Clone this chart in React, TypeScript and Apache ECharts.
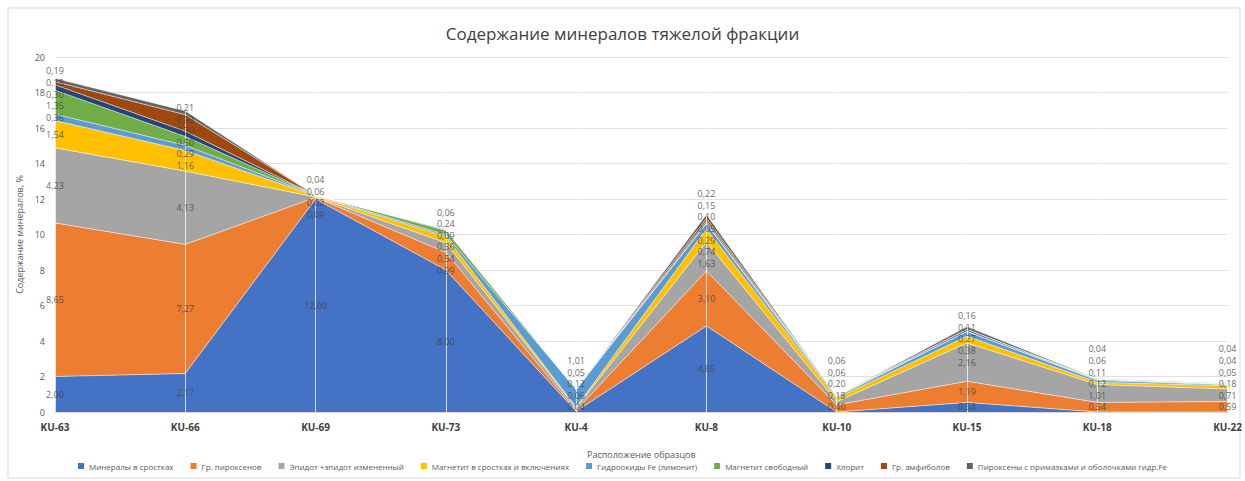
import React, { useEffect, useRef } from "react";
import * as echarts from "echarts";

const categories = ["KU-63", "KU-66", "KU-69", "KU-73", "KU-4", "KU-8", "KU-10", "KU-15", "KU-18", "KU-22"];

const seriesNames = [
  "Минералы в сростках",
  "Гр. пироксенов",
  "Эпидот +эпидот измененный",
  "Магнетит в сростках и включениях",
  "Гидроокиды Fe (лимонит)",
  "Магнетит свободный",
  "Хлорит",
  "Гр. амфиболов",
  "Пироксены с примазками и оболочками гидр.Fe",
];

const mineralsInIntergrowths = [2.0, 2.17, 12.0, 8.0, 0.04, 4.85, 0, 0.54, 0, 0];
const pyroxenes = [8.65, 7.27, 0.09, 0.99, 0.06, 3.1, 0.4, 1.19, 0.54, 0.59];
const epidote = [4.23, 4.13, 0.02, 0.54, 0.12, 1.63, 0.18, 2.16, 1.01, 0.71];
const magnetiteIntergrowths = [1.54, 1.16, 0.06, 0.36, 0.05, 0.74, 0.2, 0.38, 0.12, 0.18];
const limonite = [0.36, 0.29, 0.04, 0.09, 1.01, 0.29, 0.06, 0.27, 0.11, 0.05];
const magnetiteFree = [1.35, 0.5, 0, 0.24, 0, 0.05, 0.06, 0, 0.06, 0.04];
const chlorite = [0.3, 0.3, 0, 0.06, 0, 0.1, 0, 0.11, 0, 0];
const amphiboles = [0.18, 0.93, 0, 0, 0, 0.15, 0, 0, 0, 0];
const pyroxenesCoated = [0.19, 0.21, 0, 0, 0, 0.22, 0, 0.16, 0.04, 0.04];

const seriesValues = [
  mineralsInIntergrowths,
  pyroxenes,
  epidote,
  magnetiteIntergrowths,
  limonite,
  magnetiteFree,
  chlorite,
  amphiboles,
  pyroxenesCoated,
];

const colors = ["#4472C4", "#ED7D31", "#A5A5A5", "#FFC000", "#5B9BD5", "#70AD47", "#264478", "#9E480E", "#636363"];

const fmt = (v: number) => v.toFixed(2).replace(".", ",");

// minimum vertical spacing between value labels, in axis units (about 11.5px)
const LABEL_GAP = 0.65;
const LABEL_MIN = 0.3;

function spreadLabels(centers: number[]): number[] {
  const pos = centers.slice();
  for (let iter = 0; iter < 300; iter++) {
    let moved = false;
    for (let k = 1; k < pos.length; k++) {
      const d = pos[k] - pos[k - 1];
      if (d < LABEL_GAP - 1e-6) {
        const push = (LABEL_GAP - d) / 2;
        pos[k] += push;
        pos[k - 1] -= push;
        moved = true;
      }
    }
    if (!moved) break;
  }
  if (pos.length && pos[0] < LABEL_MIN) pos[0] = LABEL_MIN;
  for (let k = 1; k < pos.length; k++) {
    if (pos[k] < pos[k - 1] + LABEL_GAP) pos[k] = pos[k - 1] + LABEL_GAP;
  }
  return pos;
}

export default function App() {
  const ref = useRef<HTMLDivElement>(null);

  useEffect(() => {
    document.body.style.margin = "0";
    if (!ref.current) return;
    const chart = echarts.init(ref.current, null, { renderer: "svg" });

    const areaSeries = seriesNames.map((name, i) => ({
      name,
      type: "line",
      stack: "total",
      symbol: "none",
      data: seriesValues[i],
      itemStyle: { color: colors[i] },
      lineStyle: { color: "rgba(255,255,255,0.55)", width: 1 },
      areaStyle: { color: colors[i], opacity: 1 },
      z: 2,
    }));

    const labelPoints: any[] = [];
    categories.forEach((_, c) => {
      let cum = 0;
      const centers: number[] = [];
      const vals: number[] = [];
      seriesValues.forEach((arr) => {
        const v = arr[c];
        if (v > 0) {
          centers.push(cum + v / 2);
          vals.push(v);
        }
        cum += v;
      });
      const spread = spreadLabels(centers);
      spread.forEach((y, k) => labelPoints.push([c, y, vals[k]]));
    });

    const option: any = {
      animation: false,
      color: colors,
      textStyle: { fontFamily: "'Open Sans', 'Noto Sans', sans-serif" },
      title: {
        text: "Содержание минералов тяжелой фракции",
        left: "center",
        top: 20,
        textStyle: { fontSize: 17, fontWeight: "normal", color: "#404040", fontFamily: "'Open Sans', sans-serif" },
      },
      grid: { left: 55, right: 15, top: 57, bottom: 69, containLabel: false },
      legend: {
        bottom: 6,
        left: "center",
        icon: "rect",
        itemWidth: 6,
        itemHeight: 6,
        itemGap: 17,
        textStyle: { fontSize: 8, color: "#595959" },
        data: seriesNames.map((n, i) => ({ name: n, itemStyle: { color: colors[i] } })),
      },
      xAxis: {
        type: "category",
        data: categories,
        boundaryGap: false,
        name: "Расположение образцов",
        nameLocation: "middle",
        nameGap: 42,
        nameTextStyle: { fontSize: 9, color: "#595959", verticalAlign: "middle" },
        axisLine: { show: true, lineStyle: { color: "#d9d9d9" } },
        axisTick: { show: false },
        axisLabel: { fontSize: 10, fontWeight: "bold", color: "#404040", margin: 10 },
        splitLine: { show: true, lineStyle: { color: "rgba(255,255,255,0.75)", width: 1 } },
        z: 3,
      },
      yAxis: {
        type: "value",
        min: 0,
        max: 20,
        interval: 2,
        name: "Содержание минералов, %",
        nameLocation: "middle",
        nameGap: 30,
        nameTextStyle: { fontSize: 9, color: "#595959" },
        axisLine: { show: false },
        axisTick: { show: false },
        axisLabel: { fontSize: 9, color: "#595959", margin: 10 },
        splitLine: { show: true, lineStyle: { color: "#e0e0e0", width: 1 } },
      },
      graphic: [
        {
          type: "rect",
          shape: { x: 8, y: 8, width: 1232, height: 470 },
          style: { fill: "none", stroke: "#d9d9d9", lineWidth: 1 },
          silent: true,
          z: -1,
        },
      ],
      series: [
        ...areaSeries,
        {
          name: "labels",
          type: "scatter",
          symbolSize: 0,
          data: labelPoints,
          silent: true,
          z: 5,
          label: {
            show: true,
            position: "inside",
            fontSize: 9,
            lineHeight: 10,
            color: "#404040",
            formatter: (p: any) => fmt(p.value[2]),
          },
          labelLayout: { hideOverlap: false },
        },
      ],
    };

    chart.setOption(option);
    return () => chart.dispose();
  }, []);

  return <div ref={ref} style={{ width: 1245, height: 481 }} />;
}
